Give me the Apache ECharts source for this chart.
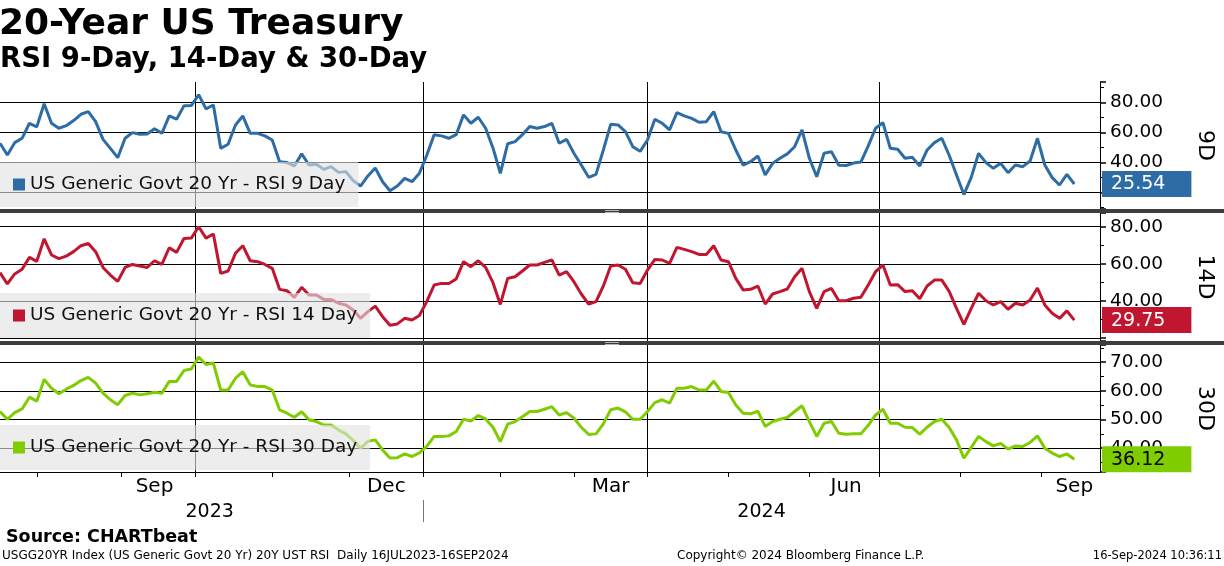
<!DOCTYPE html>
<html>
<head>
<meta charset="utf-8">
<title>20-Year US Treasury RSI</title>
<script src="https://cdn.jsdelivr.net/npm/echarts@6/dist/echarts.min.js"></script>
<style>
  html, body { margin: 0; padding: 0; background: #fff; }
  #chart { width: 1224px; height: 566px; }
</style>
</head>
<body>
<div id="chart"></div>
<script>
'use strict'

/*-----trading day axis-----*/
var firstDay = '2023-07-18';
var lastDay = '2024-09-25';
var holidays = ['2023-09-04', '2023-10-09', '2023-11-23', '2023-12-25', '2024-01-01', '2024-01-15',
  '2024-02-19', '2024-03-29', '2024-05-27', '2024-06-19', '2024-07-04', '2024-09-02'];
var monthNames = ['Jan', 'Feb', 'Mar', 'Apr', 'May', 'Jun', 'Jul', 'Aug', 'Sep', 'Oct', 'Nov', 'Dec'];
var labelMonths = ['Sep', 'Dec', 'Mar', 'Jun'];
var quarterMonths = ['Jan', 'Apr', 'Jul', 'Oct'];

/*-----RSI readings, one every 2nd trading day from 18 Jul 2023 to 16 Sep 2024-----*/
var sampleStep = 2;
var rsi9 = [
  52.7, 44.9, 53.1, 56.0, 66.0, 63.6, 79.0, 66.0, 62.7, 64.4,
  67.8, 72.0, 73.8, 67.1, 55.3, 49.3, 43.1, 56.0, 59.8, 58.7,
  58.9, 62.4, 59.3, 70.9, 68.7, 77.6, 77.8, 85.0, 75.6, 78.2,
  49.3, 52.0, 64.9, 70.9, 59.3, 59.3, 57.6, 54.9, 40.4, 39.8,
  37.6, 45.6, 38.2, 38.7, 35.3, 37.1, 33.3, 33.8, 27.8, 24.2,
  30.9, 36.2, 27.1, 21.1, 24.2, 29.3, 27.1, 32.7, 44.7, 58.4,
  57.6, 56.0, 58.4, 71.6, 66.0, 70.0, 62.7, 49.6, 32.7, 52.4,
  53.8, 58.4, 63.8, 62.7, 63.8, 66.0, 52.7, 55.3, 46.0, 38.2,
  30.0, 32.0, 48.2, 65.3, 64.9, 60.4, 50.4, 47.3, 54.9, 68.7,
  66.0, 61.6, 73.1, 70.9, 69.3, 66.7, 67.1, 73.8, 60.4, 59.3,
  48.2, 38.2, 40.4, 44.2, 31.6, 39.3, 42.7, 45.6, 50.4, 61.6,
  42.7, 30.4, 46.0, 47.1, 38.0, 37.9, 39.5, 40.2, 51.0, 62.7,
  66.4, 49.3, 48.7, 42.7, 43.3, 37.6, 48.2, 53.1, 56.0, 44.7,
  31.6, 18.5, 30.0, 46.0, 39.8, 36.0, 39.3, 33.1, 38.2, 37.1,
  40.9, 56.0, 38.2, 29.8, 24.9, 32.0, 25.54
];
var rsi14 = [
  55.3, 49.2, 54.6, 57.1, 63.5, 61.4, 73.5, 64.8, 62.8, 64.2,
  66.6, 69.8, 71.0, 66.6, 58.1, 54.0, 50.6, 58.1, 59.7, 58.9,
  58.1, 61.7, 59.7, 68.7, 66.2, 73.7, 73.9, 80.0, 73.9, 76.1,
  54.9, 56.2, 65.7, 69.8, 61.7, 61.2, 59.7, 57.6, 46.3, 45.6,
  42.0, 47.4, 43.3, 43.3, 40.9, 40.9, 38.8, 37.9, 35.2, 30.7,
  34.3, 37.3, 31.6, 27.0, 27.7, 30.7, 29.8, 32.2, 39.7, 48.6,
  49.5, 49.5, 51.9, 61.2, 58.5, 61.7, 58.1, 49.9, 38.2, 52.2,
  53.1, 56.2, 59.4, 59.4, 60.8, 62.1, 54.0, 55.8, 50.4, 43.8,
  38.4, 39.7, 48.1, 58.9, 59.4, 57.1, 49.9, 49.5, 56.7, 62.4,
  62.1, 60.3, 68.9, 67.8, 66.6, 65.1, 65.1, 69.8, 62.1, 61.2,
  52.2, 46.0, 46.3, 48.1, 38.4, 43.8, 45.1, 46.5, 53.1, 57.6,
  45.1, 36.1, 45.1, 46.8, 40.2, 40.2, 41.5, 42.0, 48.6, 55.8,
  59.4, 48.6, 48.8, 45.1, 45.6, 41.3, 48.1, 51.3, 51.3, 45.2,
  36.1, 27.5, 36.1, 44.2, 40.2, 37.9, 39.7, 35.6, 38.8, 37.9,
  40.6, 47.0, 37.9, 33.4, 30.7, 34.7, 29.75
];
var rsi30 = [
  52.8, 50.1, 52.4, 53.7, 57.8, 56.4, 64.0, 60.9, 59.0, 60.6,
  61.9, 63.6, 64.7, 62.7, 59.2, 56.9, 55.2, 58.4, 59.2, 58.6,
  59.0, 59.5, 59.2, 63.3, 63.3, 67.1, 67.6, 71.8, 69.2, 69.7,
  60.3, 60.3, 64.4, 66.7, 62.1, 61.5, 61.5, 60.3, 53.4, 52.2,
  50.8, 52.7, 49.9, 49.3, 48.1, 48.1, 46.4, 45.0, 42.7, 40.0,
  42.4, 42.9, 39.4, 36.6, 36.7, 38.0, 37.1, 38.4, 40.6, 44.1,
  44.1, 44.3, 45.8, 50.1, 49.5, 51.4, 50.2, 47.3, 42.3, 48.4,
  49.3, 51.0, 52.8, 52.8, 53.6, 54.5, 51.6, 52.4, 50.5, 47.3,
  44.8, 45.0, 48.5, 53.4, 54.0, 52.7, 50.1, 50.1, 52.8, 55.9,
  56.9, 55.7, 60.9, 60.9, 61.5, 60.3, 60.3, 63.4, 59.8, 59.4,
  55.1, 52.2, 52.0, 52.9, 47.6, 49.3, 50.1, 50.7, 52.8, 54.8,
  49.3, 44.1, 48.7, 49.3, 45.2, 44.9, 45.0, 45.0, 48.0, 51.6,
  53.6, 48.7, 48.7, 47.3, 47.2, 44.9, 47.3, 49.3, 50.1, 47.2,
  42.9, 36.5, 40.3, 44.1, 42.3, 40.8, 41.7, 39.7, 40.8, 40.6,
  42.0, 44.3, 40.0, 38.3, 37.1, 38.0, 36.12
];

var seriesNames = ['US Generic Govt 20 Yr - RSI 9 Day', 'US Generic Govt 20 Yr - RSI 14 Day', 'US Generic Govt 20 Yr - RSI 30 Day'];
var panelNames = ['9D', '14D', '30D'];
var seriesValues = [rsi9, rsi14, rsi30];

var font = "'DejaVu Sans', Verdana, sans-serif";
var colors = ['#2d6ca5', '#c0162f', '#7fcc00'];
var gridTops = [82, 213, 345];
var gridHeights = [127, 128, 127];
var yMins = [8.9, 18.5, 31.7];
var yMaxs = [93.5, 87.4, 76];
var ySplits = [4, 3, 4];
var legendTops = [162, 293, 425];

/*-----build the weekday list (bond market holidays left out)-----*/
var days = [];
var cur = new Date(firstDay + 'T00:00:00Z');
var stop = new Date(lastDay + 'T00:00:00Z');
while (cur <= stop) {
  var iso = cur.toISOString().slice(0, 10);
  var wd = cur.getUTCDay();
  if (wd !== 0 && wd !== 6 && holidays.indexOf(iso) < 0) days.push(iso);
  cur.setUTCDate(cur.getUTCDate() + 1);
}

function monthOf(i) { return monthNames[+days[i].slice(5, 7) - 1]; }
function isMonthStart(i) { return i > 0 && days[i].slice(5, 7) !== days[i - 1].slice(5, 7); }
function isQuarterStart(i) { return isMonthStart(i) && quarterMonths.indexOf(monthOf(i)) >= 0; }
function isMidMonth(i) {
  return i > 0 && +days[i].slice(8, 10) >= 15 && +days[i - 1].slice(8, 10) < 15 &&
    labelMonths.indexOf(monthOf(i)) >= 0;
}
function isYearStart(i) { return i > 0 && days[i].slice(0, 4) !== days[i - 1].slice(0, 4); }

// middle of each year's stretch on the axis, for the year labels
var yearMids = [];
var yStart = 0;
for (var i = 1; i <= days.length; i++) {
  if (i === days.length || isYearStart(i)) {
    yearMids.push(Math.round((yStart + i - 1) / 2));
    yStart = i;
  }
}

function toPairs(arr) {
  return arr.map(function (v, k) { return [k * sampleStep, v]; });
}

var grids = [], xAxes = [], yAxes = [], series = [], legends = [];

for (var k = 0; k < 3; k++) {
  var isBottom = k === 2;
  grids.push({ left: 0, width: 1103, top: gridTops[k], height: gridHeights[k] });

  xAxes.push({
    type: 'category',
    gridIndex: k,
    data: days,
    boundaryGap: false,
    axisLine: { show: isBottom, lineStyle: { color: '#000', width: 1 } },
    axisTick: {
      show: isBottom,
      interval: function (idx) { return isMonthStart(idx); },
      length: 5,
      lineStyle: { color: '#000' }
    },
    axisLabel: {
      show: isBottom,
      interval: function (idx) { return isMidMonth(idx); },
      formatter: function (v) { return monthNames[+v.slice(5, 7) - 1]; },
      margin: 5,
      color: '#000',
      fontSize: 20,
      fontFamily: font
    },
    splitLine: {
      show: true,
      interval: function (idx) { return isQuarterStart(idx); },
      lineStyle: { color: '#000', width: 1 }
    }
  });

  var vals = seriesValues[k];
  yAxes.push({
    type: 'value',
    gridIndex: k,
    position: 'right',
    min: yMins[k],
    max: yMaxs[k],
    splitNumber: ySplits[k],
    axisLine: { show: true, lineStyle: { color: '#000', width: 1 } },
    axisTick: { show: true, length: 6, lineStyle: { color: '#000', width: 1.5 } },
    minorTick: { show: true, splitNumber: 2, length: 4, lineStyle: { color: '#000', width: 1 } },
    splitLine: { show: true, showMinLine: false, showMaxLine: false, lineStyle: { color: '#000', width: 1 } },
    axisLabel: {
      showMinLabel: false,
      showMaxLabel: false,
      margin: 10,
      color: '#000',
      fontSize: 18.5,
      fontFamily: font,
      formatter: (function (kk) {
        return function (v) { return (kk === 1 && v < 25) ? '' : v.toFixed(2); };
      })(k)
    },
    name: panelNames[k],
    nameLocation: 'middle',
    nameRotate: -90,
    nameGap: 94,
    nameTextStyle: { fontSize: 22, color: '#000', fontFamily: font },
    axisPointer: {
      show: true,
      type: 'line',
      value: vals[vals.length - 1],
      status: 'show',
      triggerTooltip: false,
      lineStyle: { opacity: 0 },
      label: {
        show: true,
        formatter: function (p) { return (+p.value).toFixed(2); },
        backgroundColor: colors[k],
        color: isBottom ? '#000' : '#fff',
        fontSize: 19,
        fontFamily: font,
        padding: [4, 26, 3, 9],
        margin: 2,
        borderRadius: 0,
        shadowBlur: 0
      }
    }
  });

  series.push({
    name: seriesNames[k],
    type: 'line',
    xAxisIndex: k,
    yAxisIndex: k,
    data: toPairs(vals),
    showSymbol: false,
    symbol: 'none',
    color: colors[k],
    lineStyle: { width: 3, color: colors[k] },
    z: 2
  });

  legends.push({
    data: [seriesNames[k]],
    left: 0,
    top: legendTops[k],
    selectedMode: false,
    backgroundColor: 'rgba(226,226,226,0.62)',
    padding: [13, 13, 13, 13],
    itemWidth: 12,
    itemHeight: 12,
    icon: 'rect',
    textStyle: { fontSize: 18.5, color: '#111', fontFamily: font }
  });
}

/*-----year row under the month labels-----*/
xAxes.push({
  type: 'category',
  gridIndex: 2,
  data: days,
  boundaryGap: false,
  position: 'bottom',
  offset: 28,
  axisLine: { show: false },
  axisTick: {
    show: true,
    interval: function (idx) { return isYearStart(idx); },
    length: 22,
    lineStyle: { color: '#777', width: 1 }
  },
  axisLabel: {
    interval: function (idx) { return yearMids.indexOf(idx) >= 0; },
    formatter: function (v) { return v.slice(0, 4); },
    margin: 3,
    color: '#000',
    fontSize: 19,
    fontFamily: font
  },
  splitLine: { show: false }
});

var chart = echarts.init(document.getElementById('chart'));

var option = {
  animation: false,
  backgroundColor: '#fff',
  textStyle: { fontFamily: font },
  title: [
    { text: '20-Year US Treasury', left: -1, top: 7, padding: 0,
      textStyle: { fontSize: 36, fontWeight: 'bold', color: '#000', fontFamily: font } },
    { text: 'RSI 9-Day, 14-Day & 30-Day', left: 0, top: 46, padding: 0,
      textStyle: { fontSize: 27.5, fontWeight: 'bold', color: '#000', fontFamily: font } },
    { text: 'Source: CHARTbeat', left: 6, top: 528, padding: 0,
      textStyle: { fontSize: 17.5, fontWeight: 'bold', color: '#000', fontFamily: font } },
    { text: 'USGG20YR Index (US Generic Govt 20 Yr) 20Y UST RSI  Daily 16JUL2023-16SEP2024', left: 2, top: 550, padding: 0,
      textStyle: { fontSize: 12, fontWeight: 'normal', color: '#000', fontFamily: font } },
    { text: 'Copyright\u00a9 2024 Bloomberg Finance L.P.', left: 677, top: 550, padding: 0,
      textStyle: { fontSize: 12, fontWeight: 'normal', color: '#000', fontFamily: font } },
    { text: '16-Sep-2024 10:36:11', right: 2, top: 550, padding: 0,
      textStyle: { fontSize: 11.5, fontWeight: 'normal', color: '#000', fontFamily: font } }
  ],
  legend: legends,
  grid: grids,
  xAxis: xAxes,
  yAxis: yAxes,
  series: series,
  graphic: [
    { type: 'rect', left: 0, top: 209, shape: { width: 1224, height: 4 }, style: { fill: '#3d3d3d' }, z: 100 },
    { type: 'rect', left: 0, top: 341, shape: { width: 1224, height: 4 }, style: { fill: '#3d3d3d' }, z: 100 },
    { type: 'rect', left: 605, top: 210, shape: { width: 14, height: 1 }, style: { fill: '#b5b5b5' }, z: 101 },
    { type: 'rect', left: 605, top: 212, shape: { width: 14, height: 1 }, style: { fill: '#b5b5b5' }, z: 101 },
    { type: 'rect', left: 605, top: 342, shape: { width: 14, height: 1 }, style: { fill: '#b5b5b5' }, z: 101 },
    { type: 'rect', left: 605, top: 344, shape: { width: 14, height: 1 }, style: { fill: '#b5b5b5' }, z: 101 }
  ]
};

chart.setOption(option);
</script>
</body>
</html>
